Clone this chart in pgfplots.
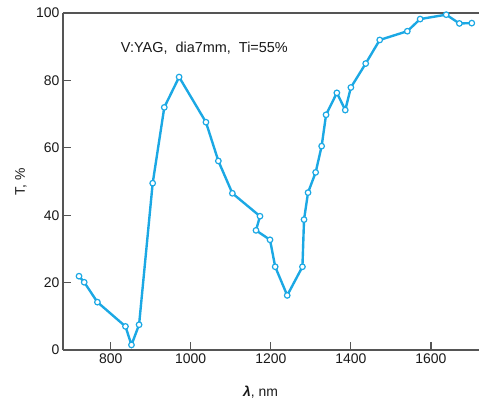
\documentclass[border=0pt]{standalone}
\usepackage{fontspec}
\setmainfont{Liberation Sans}
\usepackage{pgfplots}
\pgfplotsset{compat=1.18}
\definecolor{lineblue}{HTML}{1BA8E4}
\definecolor{axgray}{HTML}{555555}
\begin{document}
\begin{tikzpicture}
\begin{axis}[
  scale only axis,
  width=416bp, height=337bp,
  at={(0,0)}, anchor=south west,
  xmin=681, xmax=1720,
  ymin=0, ymax=100,
  axis x line=box, axis y line=left,
  axis line style={-, axgray, line width=1.3pt},
  xtick={800,1000,1200,1400,1600},
  ytick={0,20,40,60,80,100},
  xtick pos=bottom, ytick pos=left,
  tick align=inside,
  major tick length=8bp,
  tick style={axgray, line width=1.1pt},
  /pgf/number format/1000 sep={},
  /pgf/number format/assume math mode=true,
  ticklabel style={font=\fontsize{14}{16}\selectfont, text=black!90},
  clip=false,
]
\addplot[color=lineblue, line width=2.4pt,
  mark=*, mark size=2.8pt,
  mark options={fill=white, draw=lineblue, line width=1.2pt}]
  coordinates {
  (721,21.9) (734,20.1) (767,14.2) (837,7.0) (852,1.5) (871,7.5)
  (905,49.5) (934,72) (971,81) (1038,67.6) (1069,56.1) (1104,46.5)
  (1173,39.7) (1163,35.5) (1198,32.7) (1211,24.7) (1241,16.2)
  (1279,24.7) (1283,38.7) (1293,46.7) (1312,52.7) (1327,60.5)
  (1338,69.8) (1365,76.3) (1386,71.2) (1400,77.9) (1437,85)
  (1472,92) (1541,94.6) (1573,98.2) (1638,99.5) (1671,96.9) (1702,97)
  };
\node[anchor=west, font=\fontsize{14.5}{16}\selectfont, text=black!90]
  at (axis cs:817,89.6) {V:YAG,\ \ dia7mm,\ \ Ti=55\%};
\node[font=\fontsize{14}{16}\selectfont, text=black!90, xshift=-42bp, rotate=90]
  at (rel axis cs:0,0.5) {T, \%};
\node[font=\fontsize{14}{16}\selectfont, text=black!90, anchor=center]
  at (rel axis cs:0.475,0) [yshift=-42bp] {\textbf{\textit{λ}}, nm};
\end{axis}
\pgfresetboundingbox
\path (-63bp,-49bp) rectangle (416bp,350bp);
\end{tikzpicture}
\end{document}
